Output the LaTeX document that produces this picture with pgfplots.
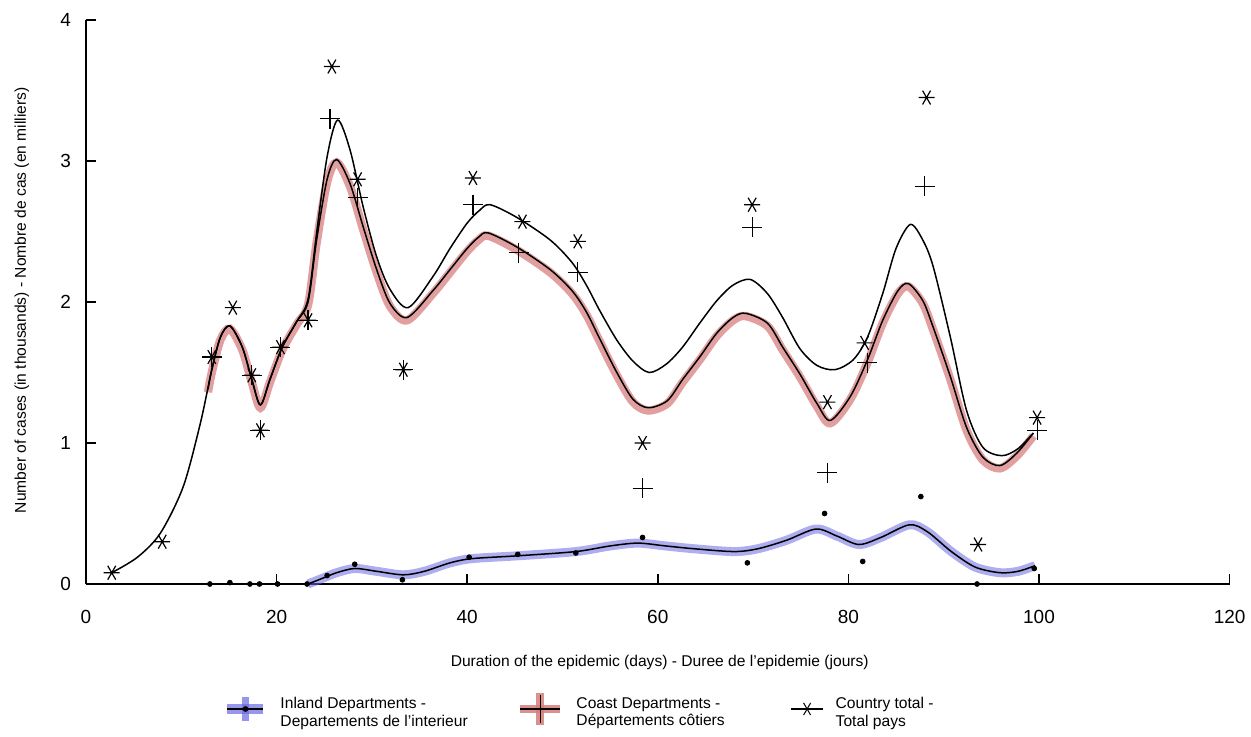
\documentclass[border=0pt]{standalone}
\usepackage{fontspec}
\setmainfont{Liberation Sans}
\usepackage{pgfplots}
\usepackage{pgfplotstable}
\pgfplotsset{compat=1.18}
\definecolor{bandred}{RGB}{214,124,122}
\definecolor{bandblue}{RGB}{105,105,225}

% smooth curves
\pgfplotstableread{
x y
2.7 0.08
5.4 0.19
7.8 0.36
10.2 0.69
12.0 1.14
13.2 1.52
14.1 1.75
15.1 1.83
16.4 1.68
17.4 1.45
18.3 1.27
19.3 1.45
20.6 1.68
22.1 1.86
23.3 2.02
24.2 2.49
25.3 3.03
26.4 3.29
27.7 3.08
29.1 2.67
30.5 2.32
31.9 2.09
33.8 1.96
36.4 2.18
38.2 2.38
40.0 2.56
41.3 2.65
42.4 2.69
45.2 2.60
48.7 2.44
51.0 2.28
52.5 2.12
53.9 1.94
55.7 1.73
57.4 1.58
59.1 1.50
60.9 1.56
62.6 1.68
64.4 1.85
66.2 2.01
67.9 2.12
69.7 2.16
71.5 2.06
73.1 1.89
74.9 1.67
76.7 1.55
78.6 1.52
80.5 1.59
82.0 1.75
83.6 2.06
85.0 2.38
86.5 2.55
87.8 2.44
88.9 2.25
90.7 1.75
92.4 1.23
94.1 0.97
96.1 0.91
97.8 0.96
99.4 1.07
}\totalcurve

\pgfplotstableread{
x y
12.8 1.38
13.2 1.52
14.1 1.75
15.1 1.83
16.4 1.68
17.4 1.45
18.3 1.27
19.3 1.45
20.6 1.68
22.1 1.86
23.3 2.00
24.2 2.44
25.3 2.87
26.3 3.01
27.7 2.84
29.1 2.53
30.5 2.23
31.9 1.99
33.7 1.89
36.4 2.08
38.2 2.23
40.0 2.38
41.2 2.46
42.2 2.49
45.2 2.39
48.7 2.23
51.0 2.08
52.5 1.93
53.9 1.74
55.7 1.50
57.4 1.31
59.0 1.25
61.0 1.30
62.6 1.45
64.4 1.61
66.2 1.78
67.9 1.89
69.2 1.92
71.5 1.85
73.1 1.68
74.9 1.49
76.7 1.28
78.1 1.16
80.2 1.33
82.0 1.59
83.6 1.87
85.2 2.08
86.3 2.13
87.8 2.01
88.9 1.82
90.7 1.47
92.4 1.11
94.1 0.90
95.9 0.84
97.7 0.93
99.4 1.07
}\coastcurve

\pgfplotstableread{
x y
23.3 0.00
24.8 0.04
26.3 0.08
28.2 0.11
30.5 0.09
33.3 0.065
35.5 0.09
38.2 0.15
40.5 0.18
45.3 0.20
51.4 0.23
55.0 0.27
57.9 0.29
60.8 0.27
63.8 0.25
68.0 0.23
70.5 0.25
73.5 0.31
76.6 0.39
78.8 0.34
81.1 0.28
83.4 0.33
86.4 0.42
88.3 0.37
90.8 0.23
93.3 0.12
95.9 0.08
97.8 0.09
99.6 0.13
}\inlandcurve

% observed points
\pgfplotstableread{
x y
2.7 0.08
8.0 0.30
13.2 1.61
15.4 1.96
17.4 1.48
18.3 1.09
20.4 1.68
23.3 1.87
25.8 3.67
28.5 2.87
33.3 1.52
40.6 2.88
45.8 2.57
51.6 2.43
58.4 1.00
69.9 2.69
77.8 1.29
81.7 1.71
88.2 3.45
93.6 0.28
99.8 1.18
}\totalpts

\pgfplotstableread{
x y
13.2 1.61
17.4 1.48
18.3 1.09
20.4 1.68
23.3 1.87
25.6 3.30
28.5 2.74
33.3 1.52
40.6 2.69
45.4 2.35
51.6 2.21
58.4 0.68
69.9 2.53
77.8 0.79
82.0 1.57
88.0 2.82
99.8 1.09
}\coastpts

\pgfplotstableread{
x y
13.0 0.00
15.1 0.01
17.2 0.00
18.2 0.00
20.1 0.00
23.2 0.00
25.3 0.06
28.2 0.14
33.2 0.03
40.2 0.19
45.3 0.21
51.4 0.22
58.4 0.33
69.4 0.15
77.5 0.50
81.5 0.16
87.6 0.62
93.5 0.00
99.5 0.11
}\inlandpts

\begin{document}
\begin{tikzpicture}
\begin{axis}[
  at={(0pt,0pt)}, anchor=origin,
  x=4.765pt, y=70.5pt,
  xmin=0, xmax=120, ymin=0, ymax=4,
  axis x line*=bottom, axis y line*=left,
  axis line style={-, line width=0.8pt},
  x axis line style={-}, y axis line style={-},
  tick align=inside,
  xtick={0,20,...,120}, ytick={0,1,2,3,4},
  major tick length=5pt,
  tick style={line width=0.8pt, black},
  /pgf/number format/assume math mode=true,
  ticklabel style={font=\fontsize{9.5}{10}\selectfont},
  xticklabel style={yshift=-9.5pt},
  yticklabel style={xshift=-4pt},
  xlabel={Duration of the epidemic (days) - Duree de l'epidemie (jours)},
  ylabel={Number of cases (in thousands) - Nombre de cas (en milliers)},
  label style={font=\fontsize{7.8}{9}\selectfont},
  xlabel style={at={(0.5017,-0.140)}, anchor=center},
  ylabel style={at={(-0.0560,0.503)}, anchor=center},
  clip=false,
  legend columns=3,
  legend cell align=left,
  legend style={at={(0.1190,-0.2216)}, anchor=west, draw=none, fill=none,
    inner sep=0pt, font=\fontsize{7.8}{8.6}\selectfont,
    nodes={inner sep=0pt},
    /tikz/every odd column/.append style={column sep=6pt},
    /tikz/every even column/.append style={column sep=0pt}},
]

\addlegendimage{legend image code/.code={
  \draw[bandblue, opacity=0.7, line width=5pt] (0pt,0pt) -- (18pt,0pt);
  \draw[bandblue, opacity=0.7, line width=3.5pt] (9pt,-6pt) -- (9pt,6pt);
  \draw[black, line width=0.7pt] (0pt,0pt) -- (18pt,0pt);
  \fill[black] (9pt,0pt) circle (1.2pt);}}
\addlegendentry{\parbox[c]{118pt}{Inland Departments -\\Departements de l'interieur}}
\addlegendimage{legend image code/.code={
  \draw[bandred, opacity=0.85, line width=4pt] (0pt,0pt) -- (20pt,0pt);
  \draw[bandred, opacity=0.85, line width=4pt] (10pt,-8pt) -- (10pt,8pt);
  \draw[black, line width=0.7pt] (0pt,0pt) -- (20pt,0pt);
  \draw[black, line width=0.7pt] (10pt,-7pt) -- (10pt,7pt);}}
\addlegendentry{\parbox[c]{107pt}{Coast Departments -\\Départements côtiers}}
\addlegendimage{legend image code/.code={
  \draw[black, line width=0.6pt] (0pt,0pt) -- (16pt,0pt);
  \begin{scope}[shift={(8pt,0pt)}, rotate=90, line width=0.5pt]
    \pgfsetplotmarksize{3.5pt}\pgfuseplotmark{asterisk}
  \end{scope}}}
\addlegendentry{\parbox[c]{60pt}{Country total -\\Total pays}}

% coloured highlighter bands
\addplot[forget plot, smooth, bandred, opacity=0.72, line width=4.2pt,
  transform canvas={yshift=-1.4pt}] table {\coastcurve};
\addplot[forget plot, smooth, bandblue, opacity=0.55, line width=4.5pt]
  table {\inlandcurve};

% black curves
\addplot[forget plot, smooth, black, line width=0.75pt] table {\totalcurve};
\addplot[forget plot, smooth, black, line width=0.75pt] table {\coastcurve};
\addplot[forget plot, smooth, black, line width=0.75pt] table {\inlandcurve};

% observed values
\addplot[forget plot, only marks, mark=asterisk, mark size=4pt,
  mark options={line width=0.6pt, black, rotate=90}] table {\totalpts};
\addplot[forget plot, only marks, mark=+, mark size=5pt,
  mark options={line width=0.6pt, black}] table {\coastpts};
\addplot[forget plot, only marks, mark=*, mark size=1.2pt,
  mark options={black}] table {\inlandpts};
\end{axis}
\pgfresetboundingbox
\useasboundingbox (-43pt,-76.5pt) rectangle (582.5pt,292pt);
\end{tikzpicture}
\end{document}
